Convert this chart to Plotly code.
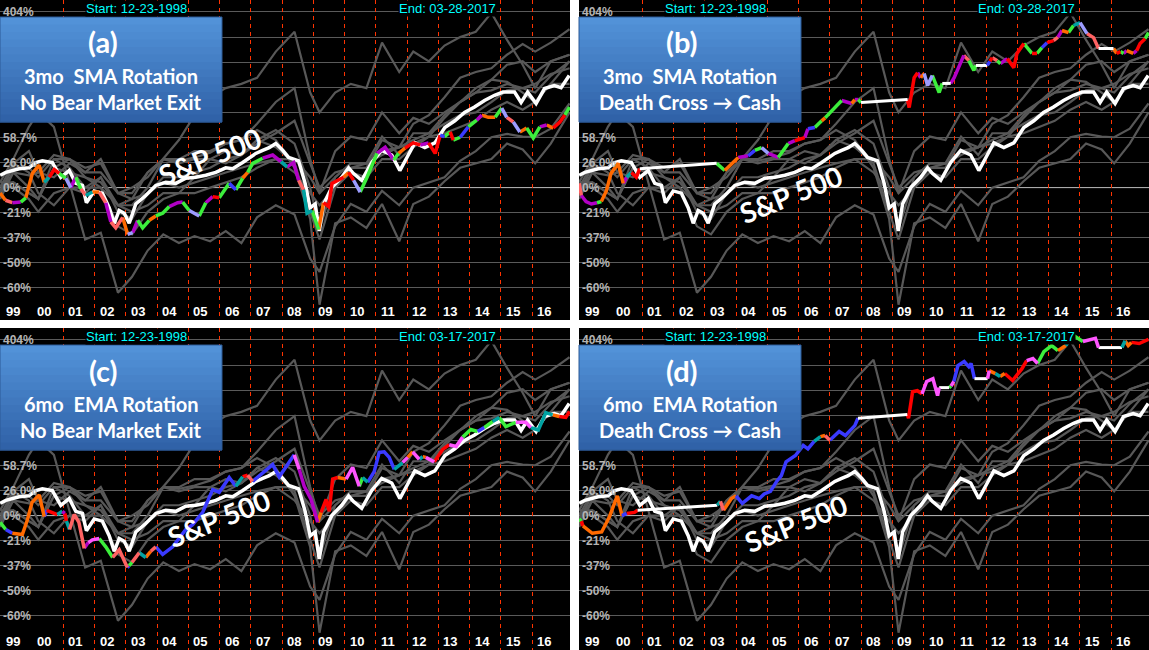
import plotly.graph_objects as go

# Growth of $1 from 12-23-1998 (log scale)
grid_years = [1998.98, 1999.4, 1999.9, 2000.2, 2000.7, 2001.2, 2001.7, 2002.2, 2002.75, 2003.2,
              2003.7, 2004.2, 2004.7, 2005.2, 2005.7, 2006.2, 2006.7, 2007.2, 2007.8, 2008.4,
              2008.9, 2009.2, 2009.7, 2010.2, 2010.7, 2011.2, 2011.75, 2012.2, 2012.7, 2013.2,
              2013.7, 2014.2, 2014.7, 2015.2, 2015.7, 2016.1, 2016.6, 2017.2]

# the nine sector funds (gray lines)
sector_xlk = [1.05, 1.3, 1.75, 2.0, 1.75, 1.05, 0.62, 0.66, 0.38, 0.44, 0.56, 0.65, 0.6, 0.64, 0.61, 0.67, 0.6, 0.76, 0.85, 0.78,
              0.52, 0.46, 0.7, 0.86, 0.8, 0.97, 0.85, 1.0, 1.05, 1.1, 1.28, 1.4, 1.59, 1.64, 1.6, 1.59, 1.72, 2.17]
sector_xlf = [0.95, 1.15, 1.0, 0.9, 1.3, 1.3, 1.2, 1.25, 0.95, 0.95, 1.15, 1.3, 1.28, 1.32, 1.38, 1.5, 1.55, 1.7, 1.55, 1.2,
              0.75, 0.34, 0.72, 0.76, 0.69, 0.86, 0.61, 0.86, 0.92, 1.06, 1.2, 1.25, 1.3, 1.5, 1.42, 1.25, 1.5, 2.0]
sector_xle = [0.9, 1.15, 1.12, 1.15, 1.35, 1.3, 1.15, 1.15, 0.95, 1.0, 1.1, 1.3, 1.55, 1.95, 2.3, 2.5, 2.6, 2.75, 3.5, 4.2,
              2.4, 2.0, 2.4, 2.6, 2.5, 3.8, 2.9, 3.5, 3.2, 3.7, 4.0, 4.2, 5.0, 3.9, 3.1, 2.5, 3.2, 3.4]
sector_xly = [1.0, 1.25, 1.4, 1.15, 1.1, 1.25, 1.15, 1.3, 0.95, 0.9, 1.15, 1.3, 1.25, 1.3, 1.3, 1.4, 1.35, 1.55, 1.45, 1.25,
              0.8, 0.62, 1.0, 1.2, 1.2, 1.55, 1.45, 1.8, 1.95, 2.3, 2.75, 2.9, 3.0, 3.4, 3.75, 3.5, 3.8, 4.3]
sector_xlv = [1.05, 1.05, 0.95, 0.9, 1.2, 1.15, 1.1, 1.05, 0.85, 0.9, 0.95, 1.05, 1.0, 1.05, 1.1, 1.15, 1.2, 1.25, 1.3, 1.15,
              0.95, 0.85, 1.0, 1.15, 1.1, 1.3, 1.3, 1.45, 1.6, 1.9, 2.2, 2.4, 2.7, 3.1, 3.2, 2.9, 3.2, 3.4]
sector_xlp = [1.02, 1.0, 0.9, 0.8, 0.95, 1.0, 1.0, 1.0, 0.85, 0.8, 0.85, 0.95, 0.95, 0.95, 1.0, 1.05, 1.1, 1.2, 1.3, 1.3,
              1.1, 0.95, 1.1, 1.25, 1.25, 1.4, 1.45, 1.55, 1.65, 1.8, 1.95, 2.0, 2.2, 2.45, 2.5, 2.6, 2.85, 3.0]
sector_xli = [0.97, 1.2, 1.2, 1.1, 1.3, 1.2, 1.0, 1.1, 0.8, 0.75, 0.95, 1.1, 1.1, 1.15, 1.2, 1.3, 1.35, 1.55, 1.7, 1.5,
              1.0, 0.68, 1.1, 1.25, 1.25, 1.6, 1.35, 1.65, 1.65, 1.95, 2.2, 2.4, 2.45, 2.6, 2.5, 2.4, 2.8, 3.2]
sector_xlb = [0.92, 1.25, 1.15, 0.95, 0.85, 1.0, 0.95, 1.1, 0.85, 0.85, 1.0, 1.3, 1.3, 1.4, 1.4, 1.5, 1.55, 1.8, 2.2, 2.5,
              1.3, 0.95, 1.4, 1.6, 1.55, 2.0, 1.65, 1.9, 1.8, 2.0, 2.2, 2.5, 2.7, 2.65, 2.4, 2.2, 2.6, 3.2]
sector_xlu = [0.98, 1.05, 0.95, 0.9, 1.2, 1.3, 1.1, 1.0, 0.7, 0.65, 0.8, 0.9, 0.95, 1.1, 1.3, 1.25, 1.35, 1.5, 1.65, 1.85,
              1.25, 1.0, 1.15, 1.2, 1.25, 1.35, 1.45, 1.5, 1.6, 1.65, 1.75, 1.85, 2.05, 2.2, 2.05, 2.2, 2.6, 2.6]
sectors = [sector_xlk, sector_xlf, sector_xle, sector_xly, sector_xlv,
           sector_xlp, sector_xli, sector_xlb, sector_xlu]

# S&P 500 (white line)
sp_years = [1998.98, 1999.16, 1999.59, 1999.9, 2000.12, 2000.33, 2000.65, 2000.92, 2001.19, 2001.4,
            2001.61, 2001.74, 2001.99, 2002.25, 2002.47, 2002.63, 2002.79, 2002.95, 2003.11, 2003.32,
            2003.64, 2003.96, 2004.28, 2004.6, 2004.92, 2005.24, 2005.56, 2005.88, 2006.2, 2006.42,
            2006.74, 2007.16, 2007.38, 2007.59, 2007.8, 2008.02, 2008.21, 2008.53, 2008.74, 2008.9,
            2009.06, 2009.19, 2009.33, 2009.59, 2009.91, 2010.13, 2010.28, 2010.55, 2010.87, 2011.19,
            2011.51, 2011.77, 2012.04, 2012.25, 2012.57, 2012.89, 2013.21, 2013.53, 2013.84, 2014.16,
            2014.48, 2014.8, 2015.07, 2015.44, 2015.65, 2015.86, 2016.13, 2016.4, 2016.71, 2016.93, 2017.19]
sp_growth = [1.12, 1.15, 1.19, 1.20, 1.26, 1.28, 1.26, 1.10, 1.17, 1.04,
             1.02, 0.87, 0.97, 0.95, 0.83, 0.72, 0.81, 0.79, 0.72, 0.86,
             0.93, 1.02, 1.05, 1.04, 1.09, 1.10, 1.12, 1.15, 1.20, 1.19,
             1.26, 1.37, 1.41, 1.445, 1.50, 1.41, 1.32, 1.28, 1.04, 0.83,
             0.86, 0.67, 0.86, 1.00, 1.10, 1.20, 1.14, 1.07, 1.26, 1.41,
             1.35, 1.17, 1.35, 1.51, 1.445, 1.51, 1.74, 1.85, 2.0, 2.10,
             2.23, 2.34, 2.41, 2.41, 2.19, 2.41, 2.17, 2.49, 2.56, 2.51, 2.81]

# (a) 3mo SMA rotation, no bear market exit
strat_a_years = [1998.98, 1999.15, 1999.37, 1999.64, 1999.8, 2000.01, 2000.23, 2000.39, 2000.55, 2000.71,
                 2000.87, 2001.08, 2001.24, 2001.4, 2001.56, 2001.72, 2001.93, 2002.15, 2002.36, 2002.52,
                 2002.68, 2002.9, 2003.06, 2003.22, 2003.38, 2003.54, 2003.75, 2003.96, 2004.18, 2004.39,
                 2004.66, 2004.82, 2005.03, 2005.35, 2005.56, 2005.78, 2005.99, 2006.31, 2006.52, 2006.74,
                 2006.9, 2007.06, 2007.38, 2007.7, 2007.97, 2008.16, 2008.37, 2008.53, 2008.69, 2008.8,
                 2008.96, 2009.17, 2009.33, 2009.49, 2009.6, 2009.97, 2010.13, 2010.29, 2010.5, 2010.72,
                 2011.04, 2011.3, 2011.57, 2011.73, 2011.94, 2012.2, 2012.42, 2012.69, 2012.9, 2013.06,
                 2013.2, 2013.38, 2013.48, 2013.7, 2013.96, 2014.23, 2014.39, 2014.6, 2014.82, 2015.03,
                 2015.19, 2015.4, 2015.61, 2015.83, 2016.04, 2016.25, 2016.47, 2016.68, 2016.89, 2017.05, 2017.2]
strat_a_growth = [0.95, 0.89, 0.87, 0.875, 0.91, 1.14, 1.23, 1.05, 1.10, 1.18,
                  1.14, 1.09, 1.00, 1.10, 0.99, 0.93, 0.96, 0.96, 0.87, 0.73,
                  0.69, 0.76, 0.65, 0.66, 0.74, 0.69, 0.74, 0.77, 0.79, 0.84,
                  0.87, 0.875, 0.81, 0.77, 0.87, 0.92, 0.91, 1.04, 0.98, 1.09,
                  1.15, 1.25, 1.31, 1.35, 1.27, 1.21, 1.26, 1.07, 0.98, 0.79,
                  0.81, 0.68, 0.87, 0.84, 1.04, 1.10, 1.15, 1.07, 0.96, 1.10,
                  1.37, 1.45, 1.29, 1.37, 1.44, 1.51, 1.48, 1.51, 1.37, 1.62,
                  1.60, 1.67, 1.55, 1.59, 1.75, 1.86, 1.95, 1.91, 1.91, 2.08,
                  1.91, 1.83, 1.67, 1.73, 1.58, 1.75, 1.78, 1.73, 1.83, 1.95, 2.10]
strat_a_held = ['orange', 'pink', 'purple', 'green', 'orange', 'orange', 'orange', 'teal', 'red', 'red',
                'green', 'lavender', 'purple', 'green', 'pink', 'teal', 'orange', 'pink', 'purple', 'pink',
                'pink', 'orange', 'lavender', 'purple', 'green', 'green', 'orange', 'green', 'green', 'purple',
                'purple', 'green', 'lavender', 'green', 'purple', 'red', 'green', 'blue', 'green', 'orange',
                'green', 'green', 'purple', 'purple', 'teal', 'purple', 'purple', 'pink', 'teal', 'teal',
                'green', 'orange', 'red', 'red', 'red', 'orange', 'red', 'lavender', 'green', 'green',
                'purple', 'purple', 'green', 'orange', 'red', 'red', 'purple', 'red', 'red', 'blue',
                'green', 'red', 'green', 'blue', 'green', 'purple', 'orange', 'orange', 'green', 'lavender',
                'pink', 'lavender', 'orange', 'green', 'green', 'purple', 'orange', 'red', 'red', 'green']

# (b) 3mo SMA rotation, death cross -> cash
strat_b_years = [1998.98, 1999.05, 1999.2, 1999.37, 1999.55, 1999.69, 1999.85, 2000.0, 2000.23, 2000.39,
                 2000.5, 2000.65, 2000.81, 2000.92, 2003.38, 2003.64, 2003.86, 2004.07, 2004.39, 2004.6,
                 2004.82, 2005.03, 2005.35, 2005.67, 2005.88, 2006.2, 2006.3, 2006.52, 2006.74, 2006.85,
                 2007.06, 2007.38, 2007.7, 2007.8, 2007.91, 2008.0, 2009.49, 2009.54, 2009.70, 2009.81,
                 2009.91, 2010.02, 2010.13, 2010.28, 2010.5, 2010.6, 2010.87, 2010.98, 2011.29, 2011.45,
                 2011.61, 2011.67, 2012.04, 2012.12, 2012.2, 2012.36, 2012.46, 2012.68, 2012.89, 2012.99,
                 2013.21, 2013.47, 2013.63, 2013.79, 2013.95, 2014.16, 2014.3, 2014.43, 2014.64, 2014.8,
                 2015.01, 2015.23, 2015.44, 2015.6, 2016.08, 2016.18, 2016.3, 2016.4, 2016.5, 2016.71,
                 2016.82, 2016.93, 2017.09, 2017.2]
strat_b_growth = [1.04, 0.93, 0.88, 0.86, 0.87, 0.88, 0.97, 1.14, 1.25, 1.04,
                  1.10, 1.15, 1.10, 1.19, 1.25, 1.17, 1.25, 1.32, 1.34, 1.41,
                  1.445, 1.37, 1.32, 1.50, 1.54, 1.585, 1.72, 1.74, 1.85, 1.90,
                  2.03, 2.23, 2.17, 2.25, 2.25, 2.19, 2.25, 2.09, 2.75, 2.88,
                  2.75, 2.86, 2.56, 2.81, 2.40, 2.61, 2.61, 2.75, 3.38, 3.22,
                  2.94, 3.08, 3.08, 3.20, 3.31, 3.22, 3.13, 3.28, 3.02, 3.44,
                  3.77, 3.44, 3.44, 3.63, 3.80, 3.87, 4.00, 4.25, 4.17, 4.45,
                  4.57, 4.13, 3.98, 3.60, 3.60, 3.44, 3.50, 3.44, 3.53, 3.44,
                  3.53, 3.77, 3.94, 4.17]
strat_b_held = ['pink', 'purple', 'purple', 'purple', 'green', 'orange', 'orange', 'orange', 'orange', 'purple',
                'teal', 'red', 'red', 'cash', 'green', 'orange', 'orange', 'purple', 'blue', 'green',
                'lavender', 'purple', 'green', 'purple', 'red', 'purple', 'blue', 'green', 'orange', 'green',
                'green', 'purple', 'orange', 'purple', 'green', 'cash', 'red', 'red', 'red', 'purple',
                'orange', 'lavender', 'lavender', 'green', 'green', 'cash', 'purple', 'purple', 'pink', 'green',
                'green', 'cash', 'blue', 'red', 'pink', 'green', 'purple', 'red', 'red', 'red',
                'green', 'red', 'green', 'blue', 'red', 'pink', 'purple', 'orange', 'green', 'teal',
                'lavender', 'pink', 'pink', 'cash', 'orange', 'red', 'green', 'purple', 'orange', 'purple',
                'red', 'red', 'green']

# (c) 6mo EMA rotation, no bear market exit
strat_c_years = [1998.98, 1999.16, 1999.37, 1999.69, 1999.85, 2000.0, 2000.23, 2000.39, 2000.47, 2000.55,
                 2000.81, 2000.97, 2001.05, 2001.1, 2001.2, 2001.35, 2001.5, 2001.67, 2001.8, 2001.93,
                 2002.15, 2002.36, 2002.58, 2002.79, 2003.05, 2003.1, 2003.2, 2003.43, 2003.64, 2003.8,
                 2003.96, 2004.18, 2004.5, 2004.92, 2005.14, 2005.46, 2005.78, 2005.99, 2006.31, 2006.52,
                 2006.74, 2006.9, 2007.06, 2007.49, 2007.7, 2007.91, 2008.12, 2008.39, 2008.55, 2008.71,
                 2008.93, 2009.14, 2009.25, 2009.41, 2009.51, 2009.62, 2009.78, 2010.05, 2010.26, 2010.47,
                 2010.58, 2010.74, 2010.95, 2011.11, 2011.27, 2011.43, 2011.59, 2011.86, 2012.02, 2012.18,
                 2012.39, 2012.5, 2012.6, 2012.87, 2013.14, 2013.35, 2013.57, 2013.78, 2014.04, 2014.26,
                 2014.47, 2014.74, 2014.95, 2015.16, 2015.48, 2015.8, 2015.96, 2016.2, 2016.44, 2016.66,
                 2016.87, 2017.08, 2017.2]
strat_c_growth = [0.94, 0.88, 0.85, 0.84, 0.96, 1.13, 1.21, 0.99, 1.05, 1.04,
                  1.01, 1.04, 1.02, 0.95, 0.88, 1.01, 0.94, 0.74, 0.78, 0.80,
                  0.81, 0.75, 0.68, 0.73, 0.62, 0.63, 0.65, 0.71, 0.68, 0.72,
                  0.75, 0.70, 0.75, 0.88, 0.92, 1.03, 1.27, 1.24, 1.42, 1.31,
                  1.43, 1.45, 1.37, 1.53, 1.60, 1.43, 1.57, 1.75, 1.53, 1.31,
                  1.16, 0.94, 1.03, 1.16, 1.04, 1.40, 1.42, 1.40, 1.56, 1.31,
                  1.42, 1.36, 1.50, 1.79, 1.80, 1.71, 1.53, 1.63, 1.71, 1.80,
                  1.68, 1.72, 1.71, 1.64, 1.84, 1.92, 1.89, 2.06, 2.21, 2.17,
                  2.25, 2.38, 2.47, 2.27, 2.36, 2.36, 2.25, 2.20, 2.58, 2.53,
                  2.49, 2.47, 2.61]
strat_c_held = ['green', 'blue', 'orange', 'orange', 'orange', 'orange', 'orange', 'blue', 'red', 'red',
                'teal', 'purple', 'red', 'teal', 'pink', 'pink', 'pink', 'purple', 'magenta', 'magenta',
                'green', 'green', 'pink', 'pink', 'blue', 'green', 'pink', 'teal', 'orange', 'pink',
                'blue', 'blue', 'blue', 'blue', 'blue', 'blue', 'blue', 'blue', 'blue', 'teal',
                'red', 'pink', 'blue', 'blue', 'blue', 'blue', 'blue', 'magenta', 'purple', 'purple',
                'purple', 'orange', 'red', 'red', 'red', 'red', 'orange', 'magenta', 'magenta', 'green',
                'teal', 'blue', 'blue', 'blue', 'blue', 'blue', 'teal', 'magenta', 'orange', 'magenta',
                'teal', 'orange', 'magenta', 'red', 'red', 'magenta', 'magenta', 'green', 'green', 'blue',
                'green', 'teal', 'green', 'green', 'magenta', 'magenta', 'teal', 'teal', 'teal', 'orange',
                'red', 'red']

# (d) 6mo EMA rotation, death cross -> cash
strat_d_years = [1998.98, 1999.05, 1999.1, 1999.4, 1999.7, 1999.95, 2000.2, 2000.35, 2000.5, 2000.75,
                 2000.85, 2003.4, 2003.5, 2003.6, 2003.85, 2004.0, 2004.2, 2004.5, 2004.75, 2004.9,
                 2005.1, 2005.3, 2005.45, 2005.6, 2005.9, 2006.15, 2006.3, 2006.5, 2006.7, 2006.85,
                 2007.0, 2007.3, 2007.5, 2007.8, 2007.9, 2009.48, 2009.52, 2009.65, 2009.8, 2009.95,
                 2010.1, 2010.3, 2010.45, 2010.5, 2010.82, 2010.88, 2010.97, 2011.1, 2011.3, 2011.45,
                 2011.52, 2011.63, 2012.05, 2012.1, 2012.3, 2012.45, 2012.6, 2012.85, 2013.15, 2013.3,
                 2013.5, 2013.65, 2013.85, 2014.1, 2014.3, 2014.55, 2014.8, 2015.1, 2015.5, 2015.6,
                 2016.35, 2016.45, 2016.55, 2016.65, 2016.9, 2017.2]
strat_d_growth = [0.97, 0.95, 0.91, 0.85, 0.86, 0.99, 1.20, 1.00, 1.02, 1.03,
                  1.05, 1.10, 1.14, 1.05, 1.17, 1.20, 1.12, 1.20, 1.17, 1.22,
                  1.25, 1.37, 1.445, 1.64, 1.74, 1.91, 1.85, 1.98, 2.07, 2.09,
                  2.00, 2.17, 2.09, 2.29, 2.45, 2.54, 2.45, 3.13, 3.16, 3.07,
                  3.44, 3.53, 3.02, 3.25, 3.25, 3.30, 3.44, 3.98, 4.13, 3.94,
                  4.06, 3.53, 3.53, 3.80, 3.70, 3.60, 3.70, 3.47, 3.87, 4.17,
                  4.25, 4.06, 4.53, 4.79, 4.57, 4.79, 5.25, 4.97, 5.12, 4.70,
                  4.70, 5.00, 4.79, 4.93, 4.88, 5.07]
strat_d_held = ['green', 'red', 'orange', 'orange', 'orange', 'orange', 'orange', 'blue', 'red', 'red',
                'cash', 'teal', 'pink', 'orange', 'orange', 'blue', 'blue', 'blue', 'blue', 'blue',
                'blue', 'blue', 'blue', 'blue', 'blue', 'blue', 'blue', 'teal', 'orange', 'pink',
                'blue', 'blue', 'blue', 'blue', 'cash', 'red', 'red', 'red', 'red', 'magenta',
                'magenta', 'magenta', 'magenta', 'cash', 'green', 'magenta', 'blue', 'blue', 'blue', 'blue',
                'blue', 'cash', 'magenta', 'orange', 'teal', 'orange', 'red', 'red', 'red', 'magenta',
                'magenta', 'green', 'green', 'green', 'orange', 'teal', 'green', 'magenta', 'magenta', 'cash',
                'teal', 'orange', 'orange', 'red', 'red']

held_colors = {
    'orange': '#ff6a00', 'pink': '#ff6262', 'purple': '#b200c6', 'green': '#3cee3c',
    'red': '#ff0000', 'blue': '#3a3aff', 'lavender': '#9c9cff', 'teal': '#00a2a2',
    'magenta': '#ff55ff', 'cash': '#ffffff',
}

# log axis: every grid step is a factor of 1.26
ytick_vals = [5.04, 1.587, 1.26, 1.0, 0.794, 0.63, 0.5, 0.397]
ytick_text = ['404%', '58.7%', '26.0%', '0%', '-21%', '-37%', '-50%', '-60%']
ygrid_vals = [5.04, 4.0, 3.175, 2.52, 2.0, 1.587, 1.26, 0.794, 0.63, 0.5, 0.397]
year_ticks = list(range(1999, 2017))
year_text = ['99', '00', '01', '02', '03', '04', '05', '06', '07', '08',
             '09', '10', '11', '12', '13', '14', '15', '16']

W, H = 1149, 650
PW = 570
panels = [
    dict(key='', left=0, top=0, h=320, tag='(a)', line1='3mo\u00a0 SMA Rotation',
         line2='No Bear Market Exit', end='End: 03-28-2017', sp=(210, 156),
         years=strat_a_years, growth=strat_a_growth, held=strat_a_held),
    dict(key='2', left=579, top=0, h=320, tag='(b)', line1='3mo\u00a0 SMA Rotation',
         line2='Death Cross \u2192 Cash', end='End: 03-28-2017', sp=(212, 194),
         years=strat_b_years, growth=strat_b_growth, held=strat_b_held),
    dict(key='3', left=0, top=328, h=322, tag='(c)', line1='6mo\u00a0 EMA Rotation',
         line2='No Bear Market Exit', end='End: 03-17-2017', sp=(219, 190),
         years=strat_c_years, growth=strat_c_growth, held=strat_c_held),
    dict(key='4', left=579, top=328, h=322, tag='(d)', line1='6mo\u00a0 EMA Rotation',
         line2='Death Cross \u2192 Cash', end='End: 03-17-2017', sp=(217, 195),
         years=strat_d_years, growth=strat_d_growth, held=strat_d_held),
]

fig = go.Figure()
shapes = []
annotations = []
layout_axes = {}

box_top = (82, 146, 216)
box_bottom = (48, 98, 168)
n_strips = 14

for p in panels:
    k = p['key']
    xa, ya = 'x' + k, 'y' + k
    xd, yd = xa + ' domain', ya + ' domain'
    h = p['h']

    def fx(px):
        return px / PW

    def fy(py, h=h):
        return 1 - py / h

    for s in sectors:
        fig.add_trace(go.Scatter(x=grid_years, y=s, mode='lines', xaxis=xa, yaxis=ya,
                                 line=dict(color='#585858', width=2.2), hoverinfo='skip'))
    fig.add_trace(go.Scatter(x=sp_years, y=sp_growth, mode='lines', xaxis=xa, yaxis=ya,
                             line=dict(color='white', width=3.5), name='S&P 500'))

    # strategy line: one trace per colour, runs separated by gaps
    yrs, gr, held = p['years'], p['growth'], p['held']
    runs = {}
    start = 0
    for i in range(1, len(held) + 1):
        if i == len(held) or held[i] != held[start]:
            c = held[start]
            xs, ys = runs.setdefault(c, ([], []))
            xs.extend(yrs[start:i + 1] + [None])
            ys.extend(gr[start:i + 1] + [None])
            start = i
    for c, (xs, ys) in runs.items():
        fig.add_trace(go.Scatter(x=xs, y=ys, mode='lines', xaxis=xa, yaxis=ya,
                                 line=dict(color=held_colors[c], width=3.5 if c != 'cash' else 3),
                                 connectgaps=False, hoverinfo='skip'))

    top_log = 0.7024 + 12 * 0.004
    layout_axes['xaxis' + k] = dict(
        domain=[p['left'] / W, (p['left'] + PW) / W], anchor=ya,
        range=[1998.975, 2017.215], tickmode='array', tickvals=year_ticks,
        showticklabels=False, ticks='',
        showgrid=True, gridcolor='#ff3300', griddash='4px,4px', gridwidth=1,
        zeroline=False, showline=False, fixedrange=True)
    layout_axes['yaxis' + k] = dict(
        domain=[1 - (p['top'] + h) / H, 1 - p['top'] / H], anchor=xa,
        type='log', range=[top_log - h * 0.004, top_log],
        tickmode='array', tickvals=ytick_vals, ticktext=ytick_text,
        ticklabelposition='inside', ticks='', showgrid=False,
        minor=dict(tickmode='array', tickvals=ygrid_vals, showgrid=True,
                   gridcolor='#5a5a5a', gridwidth=1, ticks=''),
        tickfont=dict(family='Liberation Sans', size=12, color='#b4b4b4', weight='bold'),
        zeroline=False, showline=False, fixedrange=True)

    # year labels sit just right of each dashed year line, at the bottom of the panel
    for yr, txt in zip(year_ticks, year_text):
        annotations.append(dict(xref=xa, yref=yd, x=yr, y=0, text=txt, showarrow=False,
                                xanchor='left', yanchor='bottom', xshift=3, yshift=-1,
                                font=dict(family='Liberation Sans', size=13, color='white',
                                          weight='bold')))

    # brighter 0% line
    shapes.append(dict(type='line', xref=xd, yref=ya, x0=0, x1=1, y0=1, y1=1,
                       line=dict(color='#bcbcbc', width=1), layer='below'))

    # blue title box with a vertical gradient
    b0, b1 = 17, 122
    for j in range(n_strips):
        t = j / (n_strips - 1)
        col = 'rgb({},{},{})'.format(*[round(a + (b - a) * t) for a, b in zip(box_top, box_bottom)])
        y_top = b0 + (b1 - b0) * j / n_strips
        y_bot = b0 + (b1 - b0) * (j + 1) / n_strips
        shapes.append(dict(type='rect', xref=xd, yref=yd, x0=0, x1=fx(222),
                           y0=fy(y_bot + 0.5), y1=fy(y_top), fillcolor=col,
                           line=dict(width=0), layer='above'))
    shapes.append(dict(type='rect', xref=xd, yref=yd, x0=0, x1=fx(222), y0=fy(b1), y1=fy(b0),
                       line=dict(color='#2c5b97', width=1), layer='above'))

    center = dict(xanchor='center', yanchor='middle', showarrow=False, xref=xd, yref=yd)
    annotations += [
        dict(x=fx(103), y=fy(42), text=p['tag'],
             font=dict(family='Lato', size=29, color='white', weight='bold'), **center),
        dict(x=fx(111), y=fy(76), text=p['line1'],
             font=dict(family='Lato', size=20, color='white', weight='bold'), **center),
        dict(x=fx(111), y=fy(102), text=p['line2'],
             font=dict(family='Lato', size=20, color='white', weight='bold'), **center),
        dict(x=fx(136), y=fy(8), text='Start: 12-23-1998', bgcolor='black', borderpad=0,
             font=dict(family='Liberation Sans', size=13, color='#00ffff'), **center),
        dict(x=fx(447), y=fy(8), text=p['end'], bgcolor='black', borderpad=0,
             font=dict(family='Liberation Sans', size=13, color='#00ffff'), **center),
        dict(x=fx(p['sp'][0]), y=fy(p['sp'][1]), text='S&P 500', textangle=-22,
             font=dict(family='Lato', size=28, color='white', weight='bold'), **center),
    ]

fig.update_layout(
    width=W, height=H, margin=dict(l=0, r=0, t=0, b=0),
    paper_bgcolor='white', plot_bgcolor='black', showlegend=False,
    shapes=shapes, annotations=annotations, **layout_axes)

# the page's default body margin would push the chart 8px off the window
fig.write_html('out.html', config={'displayModeBar': False},
               post_script="document.body.style.margin='0';")
